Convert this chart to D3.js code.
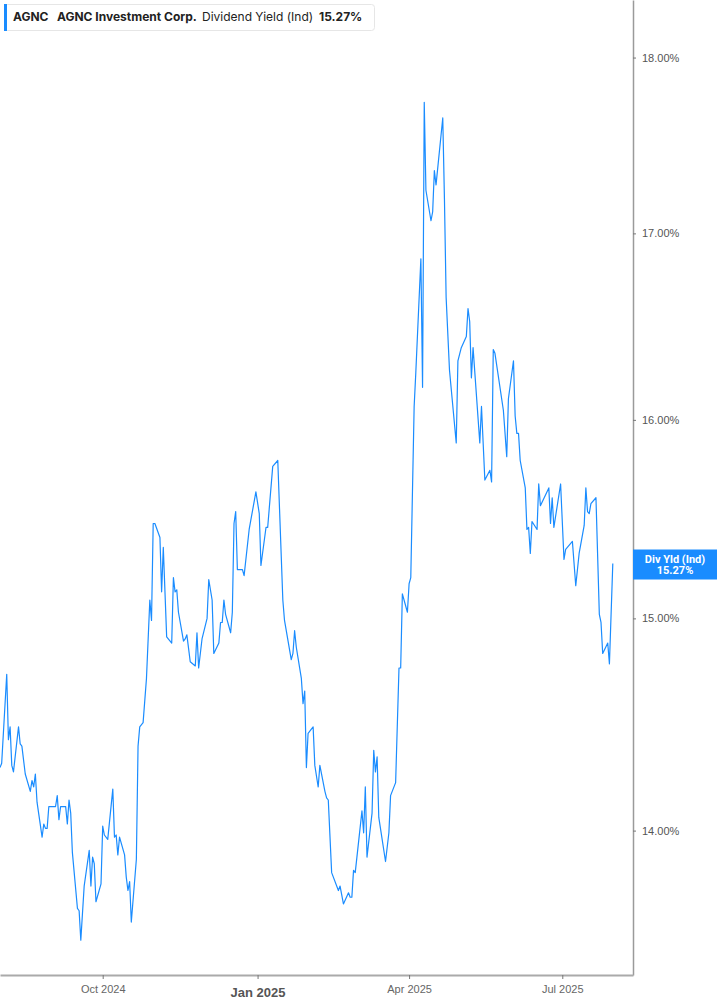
<!DOCTYPE html>
<html>
<head>
<meta charset="utf-8">
<title>AGNC Dividend Yield</title>
<script src="https://cdn.jsdelivr.net/npm/d3@7"></script>
<style>
    body { margin: 0; background: #fff; }
    svg { display: block; }
</style>
</head>
<body>
<script>
"use strict";  // modern javascript

// ----------------------------------------
//  The Data
// ----------------------------------------
const dates = [
    "2024-08-01","2024-08-02","2024-08-05","2024-08-06","2024-08-07","2024-08-08","2024-08-09",
    "2024-08-12","2024-08-13","2024-08-14","2024-08-16","2024-08-19","2024-08-20","2024-08-21",
    "2024-08-22","2024-08-23","2024-08-26","2024-08-27","2024-08-28","2024-08-29","2024-08-30",
    "2024-09-03","2024-09-04","2024-09-05","2024-09-06","2024-09-09","2024-09-10","2024-09-11",
    "2024-09-12","2024-09-13","2024-09-16","2024-09-17","2024-09-18","2024-09-20","2024-09-23",
    "2024-09-24","2024-09-25","2024-09-26","2024-09-27","2024-09-30",
    "2024-10-01","2024-10-02","2024-10-04","2024-10-07","2024-10-08","2024-10-09","2024-10-10",
    "2024-10-11","2024-10-14","2024-10-15","2024-10-16","2024-10-17","2024-10-18","2024-10-21",
    "2024-10-22","2024-10-23","2024-10-25","2024-10-27","2024-10-29","2024-10-30","2024-10-31",
    "2024-11-01","2024-11-04","2024-11-05","2024-11-06","2024-11-08","2024-11-11","2024-11-12",
    "2024-11-13","2024-11-14","2024-11-15","2024-11-18","2024-11-19","2024-11-20","2024-11-22",
    "2024-11-25","2024-11-26","2024-11-27","2024-11-29",
    "2024-12-02","2024-12-03","2024-12-05","2024-12-06","2024-12-09","2024-12-10","2024-12-11",
    "2024-12-12","2024-12-13","2024-12-16","2024-12-17","2024-12-18","2024-12-19","2024-12-20",
    "2024-12-23","2024-12-24","2024-12-27","2024-12-31",
    "2025-01-02","2025-01-03","2025-01-06","2025-01-07","2025-01-10","2025-01-13","2025-01-16",
    "2025-01-17","2025-01-21","2025-01-22","2025-01-23","2025-01-24","2025-01-27","2025-01-28",
    "2025-01-29","2025-01-30","2025-01-31",
    "2025-02-03","2025-02-04","2025-02-06","2025-02-07","2025-02-10","2025-02-11","2025-02-12",
    "2025-02-14","2025-02-18","2025-02-19","2025-02-21","2025-02-24","2025-02-25","2025-02-26",
    "2025-02-27","2025-02-28",
    "2025-03-04","2025-03-05","2025-03-06","2025-03-07","2025-03-10","2025-03-11","2025-03-12",
    "2025-03-13","2025-03-14","2025-03-18","2025-03-20","2025-03-21","2025-03-24","2025-03-26",
    "2025-03-27","2025-03-28","2025-03-31",
    "2025-04-01","2025-04-02","2025-04-04","2025-04-05","2025-04-08","2025-04-09","2025-04-10",
    "2025-04-11","2025-04-14","2025-04-15","2025-04-16","2025-04-17","2025-04-21","2025-04-22",
    "2025-04-23","2025-04-25","2025-04-29","2025-04-30",
    "2025-05-02","2025-05-05","2025-05-06","2025-05-07","2025-05-08","2025-05-09","2025-05-13",
    "2025-05-14","2025-05-16","2025-05-19","2025-05-20","2025-05-21","2025-05-22","2025-05-27",
    "2025-05-29","2025-05-30",
    "2025-06-02","2025-06-03","2025-06-04","2025-06-05","2025-06-06","2025-06-09","2025-06-10",
    "2025-06-11","2025-06-12","2025-06-13","2025-06-16","2025-06-17","2025-06-18","2025-06-23",
    "2025-06-24","2025-06-25","2025-06-26","2025-06-30",
    "2025-07-02","2025-07-03","2025-07-07","2025-07-09","2025-07-11","2025-07-14","2025-07-15",
    "2025-07-16","2025-07-17","2025-07-18","2025-07-21","2025-07-23","2025-07-24","2025-07-25",
    "2025-07-28","2025-07-29","2025-07-31"
];

const yields = [
    14.29,14.31,14.73,14.42,14.48,14.30,14.27,
    14.48,14.40,14.39,14.26,14.18,14.23,14.20,
    14.26,14.13,13.97,14.03,14.01,14.01,14.11,
    14.11,14.16,14.05,14.11,14.11,14.03,14.14,
    14.08,13.90,13.65,13.64,13.51,13.75,13.91,
    13.75,13.88,13.85,13.68,13.76,
    14.02,13.98,13.96,14.19,13.97,13.98,13.89,
    13.97,13.89,13.79,13.73,13.77,13.59,13.87,
    14.39,14.48,14.50,14.71,15.09,14.99,15.47,
    15.47,15.40,15.13,15.35,14.91,14.88,15.20,
    15.13,15.14,15.03,14.89,14.90,14.92,14.79,
    14.77,14.93,14.76,14.90,
    15.00,15.19,15.09,14.83,14.88,14.98,14.98,
    15.09,15.02,14.93,15.03,15.47,15.53,15.24,
    15.24,15.21,15.44,15.63,
    15.52,15.26,15.45,15.45,15.76,15.79,15.09,
    14.99,14.80,14.83,14.94,14.86,14.71,14.59,
    14.65,14.29,14.45,
    14.48,14.30,14.20,14.30,14.18,14.15,14.14,
    13.81,13.73,13.75,13.67,13.72,13.70,13.70,
    13.82,13.81,
    14.09,13.99,14.20,13.88,14.08,14.37,14.27,
    14.34,14.06,13.86,13.99,14.16,14.22,14.76,
    14.76,15.12,15.03,
    15.17,15.20,16.07,16.25,16.86,16.17,17.74,
    17.24,17.07,17.12,17.35,17.27,17.65,17.19,
    16.65,16.26,15.88,16.31,
    16.38,16.44,16.59,16.52,16.22,16.38,15.88,
    16.07,15.69,15.74,15.68,16.37,16.35,16.05,
    15.81,16.11,
    16.31,16.02,15.93,15.93,15.79,15.65,15.44,
    15.45,15.32,15.48,15.44,15.67,15.56,15.65,
    15.47,15.60,15.45,15.67,
    15.29,15.34,15.38,15.16,15.32,15.46,15.65,
    15.53,15.52,15.57,15.60,15.02,14.98,14.83,
    14.88,14.78,15.27
];

const yTicks = [14, 15, 16, 17, 18];
const xTicks = ["2024-10-01", "2025-01-01", "2025-04-01", "2025-07-01"];
const xDomain = ["2024-08-01", "2025-08-12"];
const yDomain = [13.358, 18.34];

const ticker = "AGNC";
const company = "AGNC Investment Corp.";
const metric = "Dividend Yield (Ind)";
const badgeName = "Div Yld (Ind)";

(function(){
    let parseDate = d3.timeParse("%Y-%m-%d");
    let fmtPct = d3.format(".2f");

    let data = dates.map(function(d, i){
        return { date: parseDate(d), value: yields[i] };
    });
    let last = data[data.length - 1];

    let W = 717, H = 1005;
    let plotW = 633;    // the y axis sits on the right edge of the plot
    let plotH = 975;
    let blue = "#1a8cff";

    // ----------------------------------------
    // Setting Up the Scales
    // ----------------------------------------
    let x_scale = d3.scaleTime()
        .domain(xDomain.map(parseDate))
        .range([0, plotW]);

    let y_scale = d3.scaleLog()
        .domain(yDomain)
        .range([plotH, 0]);   // log scale, as the tick gaps show

    let svg = d3.select("body").append("svg")
        .attr("width", W)
        .attr("height", H)
        .style("font-family", "Roboto, 'Noto Sans', sans-serif");

    // ----------------------------------------
    // The line
    // ----------------------------------------
    let line = d3.line()
        .x(function(d){ return x_scale(d.date); })
        .y(function(d){ return y_scale(d.value); });

    svg.append("path")
        .datum(data)
        .attr("fill", "none")
        .attr("stroke", blue)
        .attr("stroke-width", 1.2)
        .attr("stroke-linejoin", "round")
        .attr("d", line);

    // ----------------------------------------
    // Axes
    // ----------------------------------------
    // y axis on the right
    let yAxis = svg.append("g")
        .attr("transform", "translate(" + plotW + ",0)")
        .call(d3.axisRight(y_scale)
            .tickValues(yTicks)
            .tickSize(3)
            .tickSizeOuter(0)
            .tickPadding(6)
            .tickFormat(function(d){ return fmtPct(d) + "%"; }));

    yAxis.select(".domain")
        .attr("stroke", "#9a9a9a")
        .attr("stroke-width", 1.5);
    yAxis.selectAll(".tick line").attr("stroke", "#777");
    yAxis.selectAll(".tick text")
        .attr("fill", "#555")
        .style("font-size", "11px");

    // x axis at the bottom
    let xAxis = svg.append("g")
        .attr("transform", "translate(0," + plotH + ")")
        .call(d3.axisBottom(x_scale)
            .tickValues(xTicks.map(parseDate))
            .tickSize(4)
            .tickSizeOuter(0)
            .tickPadding(6)
            .tickFormat(d3.timeFormat("%b %Y")));

    xAxis.select(".domain")
        .attr("stroke", "#aaa")
        .attr("stroke-width", 2);
    xAxis.selectAll(".tick line").attr("stroke", "#777");
    xAxis.selectAll(".tick text")
        .attr("fill", "#666")
        .style("font-size", "11px")
        .filter(function(d){ return d.getMonth() === 0; })   // year start is emphasised
        .attr("fill", "#555")
        .attr("dy", "0.95em")
        .style("font-size", "13px")
        .style("font-weight", "bold");

    // ----------------------------------------
    // Last value badge on the axis
    // ----------------------------------------
    let yl = y_scale(last.value);
    let badge = svg.append("g")
        .attr("transform", "translate(" + plotW + "," + (yl - 14) + ")");

    badge.append("rect")
        .attr("width", W - plotW)
        .attr("height", 30)
        .attr("fill", blue);

    badge.selectAll("text")
        .data([badgeName, fmtPct(last.value) + "%"])
        .enter()
        .append("text")
        .attr("x", (W - plotW) / 2)
        .attr("y", function(d, i){ return 13 + i * 11; })
        .attr("text-anchor", "middle")
        .attr("fill", "#fff")
        .style("font-size", "11px")
        .style("font-weight", "bold")
        .text(function(d){ return d; });

    // ----------------------------------------
    // Legend box, top left
    // ----------------------------------------
    let legend = svg.append("g")
        .style("font-family", "Inter, Roboto, sans-serif")
        .style("font-size", "12px");

    legend.append("rect")
        .attr("x", 4.5).attr("y", 4.5)
        .attr("width", 370).attr("height", 26)
        .attr("rx", 3)
        .attr("fill", "#fff")
        .attr("stroke", "#e6e6e6");

    legend.append("rect")
        .attr("x", 4).attr("y", 4)
        .attr("width", 3).attr("height", 27)
        .attr("fill", blue);

    let items = [
        { text: ticker, x: 13, bold: true },
        { text: company, x: 57, bold: true },
        { text: metric, x: 202, bold: false },
        { text: fmtPct(last.value) + "%", x: 319, bold: true }
    ];

    legend.selectAll(".item")
        .data(items)
        .enter()
        .append("text")
        .attr("class", "item")
        .attr("x", function(d){ return d.x; })
        .attr("y", 21)
        .attr("fill", "#222")
        .style("font-weight", function(d){ return d.bold ? "bold" : "normal"; })
        .text(function(d){ return d.text; });
})();
</script>
</body>
</html>
